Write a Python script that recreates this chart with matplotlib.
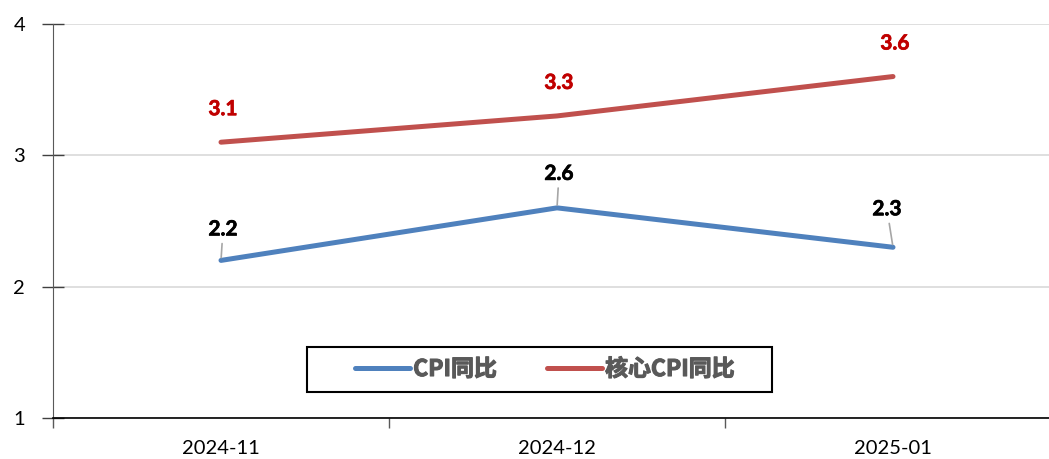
import matplotlib.pyplot as plt
import matplotlib.patheffects as pe
from matplotlib.patches import Rectangle

plt.rcParams['font.family'] = ['Lato', 'Noto Sans CJK SC', 'DejaVu Sans']

months = ["2024-11", "2024-12", "2025-01"]
cpi_yoy = [2.2, 2.6, 2.3]
core_cpi_yoy = [3.1, 3.3, 3.6]
series_names = ["CPI同比", "核心CPI同比"]

blue = "#4F81BD"
red = "#C0504D"

fig = plt.figure(figsize=(10.49, 4.59), dpi=100)
ax = fig.add_axes([53 / 1049, 1 - 418 / 459, 1008 / 1049, 394 / 459])

x = list(range(len(months)))
ax.plot(x, cpi_yoy, color=blue, lw=3.6, solid_capstyle="round", label=series_names[0], zorder=3)
ax.plot(x, core_cpi_yoy, color=red, lw=3.6, solid_capstyle="round", label=series_names[1], zorder=3)

# data labels (pixel offsets from the point)
cpi_offsets = [(2, 31), (2, 34), (-6, 38)]
for xi, v, off in zip(x, cpi_yoy, cpi_offsets):
    ax.annotate(f"{v:.1f}", (xi, v), xytext=off, textcoords="offset pixels",
                ha="center", va="center", fontsize=15, fontweight="bold", color="black",
                path_effects=[pe.withStroke(linewidth=0.5, foreground="black")],
                arrowprops=dict(arrowstyle="-", color="#A6A6A6", lw=1.2, shrinkA=1, shrinkB=2))
for xi, v in zip(x, core_cpi_yoy):
    ax.annotate(f"{v:.1f}", (xi, v), xytext=(2, 33), textcoords="offset pixels",
                ha="center", va="center", fontsize=15, fontweight="bold", color="#C00000",
                path_effects=[pe.withStroke(linewidth=0.5, foreground="#C00000")])

ax.set_xlim(-0.5, 2.5)
ax.set_ylim(1, 4)
ax.set_yticks([1, 2, 3, 4])
ax.set_xticks(x)
ax.set_xticklabels(months)
ax.set_xticks([-0.5, 0.5, 1.5, 2.5], minor=True)
ax.tick_params(axis="x", which="major", length=0, pad=16, labelsize=14.5)
ax.tick_params(axis="x", which="minor", length=7, width=1, color="#595959")
ax.tick_params(axis="y", direction="inout", length=16, width=1, color="#404040", pad=12, labelsize=14.5)

ax.grid(axis="y", color="#D9D9D9", lw=1.2)
ax.set_axisbelow(True)
for side in ("top", "right"):
    ax.spines[side].set_visible(False)
ax.spines["left"].set_color("#595959")
ax.spines["bottom"].set_color("black")
ax.spines["bottom"].set_linewidth(1.2)

# legend box drawn separately, legend entries without frame
fig.patches.append(Rectangle((307 / 1049, 1 - 392 / 459), 465 / 1049, 45 / 459,
                             transform=fig.transFigure, fill=True, facecolor="white",
                             edgecolor="black", lw=1.5, zorder=5))
leg = fig.legend(loc="center", bbox_to_anchor=(545 / 1049, 1 - 369.5 / 459), ncol=2,
                 frameon=False, handlelength=2.4, columnspacing=2.2, handletextpad=0.12,
                 prop=dict(family=["Noto Sans CJK SC"], size=16.5, weight="bold"))
leg.set_zorder(6)
for t in leg.get_texts():
    t.set_color("#595959")
    t.set_path_effects([pe.withStroke(linewidth=0.8, foreground="#595959")])

fig.savefig("out.png", dpi=100)
